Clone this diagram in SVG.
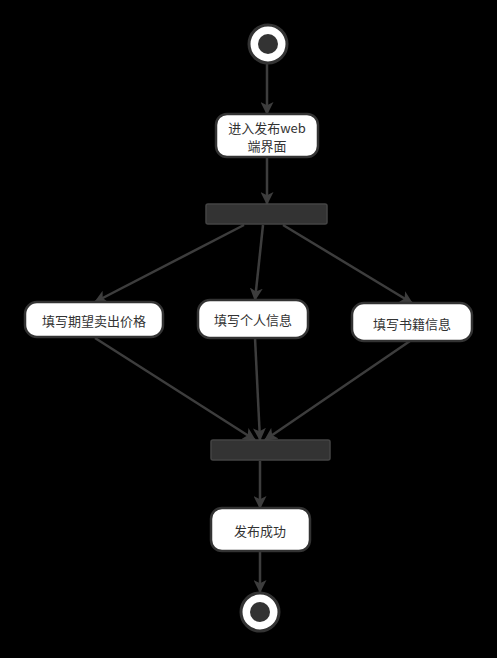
<svg xmlns="http://www.w3.org/2000/svg" width="497" height="658" viewBox="0 0 497 658">
<style>
.node rect{fill:#ffffff;stroke:#333333;stroke-width:2.5}
.bar{fill:#333333;stroke:#444444;stroke-width:1.5}
.lbl{font-family:"Noto Sans CJK SC","Liberation Sans",sans-serif;font-size:13px;fill:#333333;text-anchor:middle;dominant-baseline:central}
.edge{stroke:#3d3d3d;stroke-width:2.5;fill:none;marker-end:url(#arr)}
.ring{fill:#ffffff;stroke:#333333;stroke-width:3}
.dot{fill:#333333}
</style>
<defs>
<marker id="arr" markerUnits="userSpaceOnUse" viewBox="0 0 12 12" refX="11" refY="6" markerWidth="13" markerHeight="13" orient="auto">
<path d="M0,0 L12,6 L0,12 L3,6 z" fill="#3d3d3d"/>
</marker>
</defs>
<rect x="0" y="0" width="497" height="658" fill="#000000"/>
<g id="connectors">
<line class="edge" x1="267" y1="64" x2="267" y2="114"/>
<line class="edge" x1="267" y1="158" x2="267" y2="204"/>
<line class="edge" x1="244" y1="225" x2="95" y2="302"/>
<line class="edge" x1="263" y1="225" x2="255" y2="300"/>
<line class="edge" x1="283" y1="225" x2="412" y2="303"/>
<line class="edge" x1="95" y1="338" x2="255" y2="440"/>
<line class="edge" x1="255" y1="338" x2="260" y2="440"/>
<line class="edge" x1="410" y1="341" x2="265" y2="440"/>
<line class="edge" x1="260" y1="461" x2="260" y2="508"/>
<line class="edge" x1="260" y1="551" x2="260" y2="592"/>
</g>
<g id="start">
<circle class="ring" cx="268" cy="44" r="19"/>
<circle class="dot" cx="268" cy="44" r="10"/>
</g>
<g id="enter" class="node">
<rect x="216" y="114" width="102" height="43" rx="11"/>
<text class="lbl" x="267" y="127">进入发布web</text>
<text class="lbl" x="267" y="145">端界面</text>
</g>
<g id="fork">
<rect class="bar" x="206" y="204" width="121" height="20" rx="2"/>
</g>
<g id="price" class="node">
<rect x="25" y="302" width="138" height="35" rx="12"/>
<text class="lbl" x="94" y="320">填写期望卖出价格</text>
</g>
<g id="personal" class="node">
<rect x="198" y="300" width="110" height="38" rx="12"/>
<text class="lbl" x="253" y="319">填写个人信息</text>
</g>
<g id="book" class="node">
<rect x="352" y="303" width="120" height="38" rx="12"/>
<text class="lbl" x="412" y="323">填写书籍信息</text>
</g>
<g id="join">
<rect class="bar" x="211" y="440" width="119" height="20" rx="2"/>
</g>
<g id="success" class="node">
<rect x="211" y="508" width="99" height="43" rx="11"/>
<text class="lbl" x="260" y="530">发布成功</text>
</g>
<g id="end">
<circle class="ring" cx="260" cy="612" r="19"/>
<circle class="dot" cx="260" cy="612" r="10"/>
</g>
</svg>
